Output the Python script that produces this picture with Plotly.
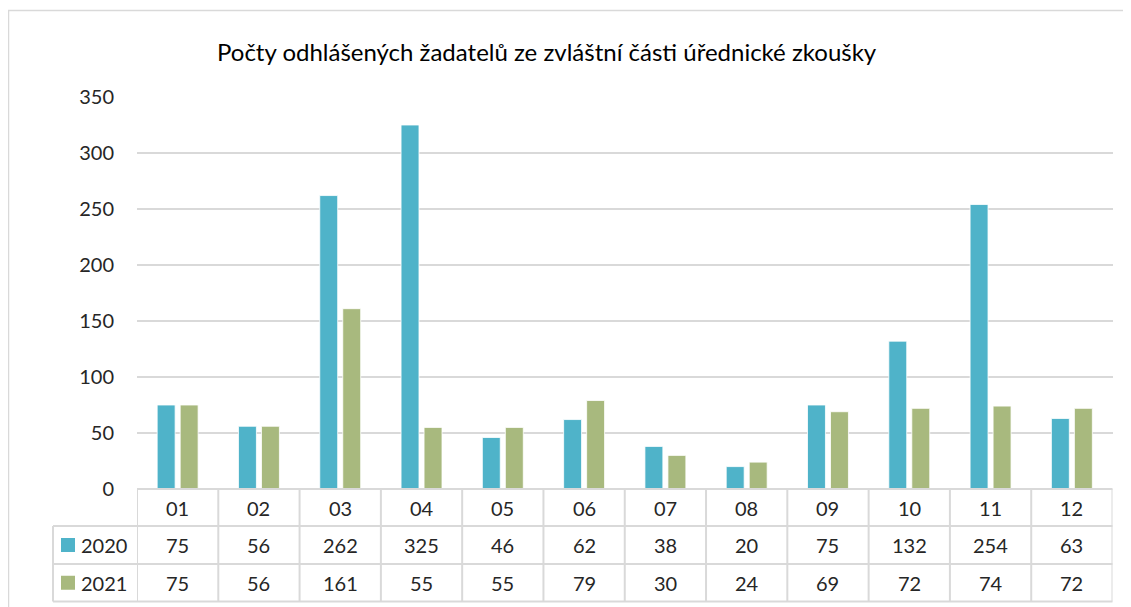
import plotly.graph_objects as go

W, H = 1131, 607
months = ["01", "02", "03", "04", "05", "06", "07", "08", "09", "10", "11", "12"]
series_names = ["2020", "2021"]
v2020 = [75, 56, 262, 325, 46, 62, 38, 20, 75, 132, 254, 63]
v2021 = [75, 56, 161, 55, 55, 79, 30, 24, 69, 72, 74, 72]
colors = ["#4FB3C9", "#A8B97E"]
title = "Počty odhlášených žadatelů ze zvláštní části úřednické zkoušky"
yticks = [0, 50, 100, 150, 200, 250, 300, 350]

FONT = "Lato"
GRID = "#D9D9D9"
OFF = 8  # page offset of the figure in the browser


def px(x):
    return (x - OFF) / W


def py(y):
    return 1 - (y - OFF) / H


x0, x1 = 137, 1112.5
y_top, y_zero = 97, 489
row_y = [489, 526, 564, 601.5]
leg_x = 53

fig = go.Figure()
for name, vals, col in zip(series_names, [v2020, v2021], colors):
    fig.add_trace(go.Bar(x=months, y=vals, name=name,
                         marker=dict(color=col, line=dict(color="white", width=0.8)),
                         showlegend=False, hoverinfo="x+y+name"))

shapes = []
# outer chart border
shapes.append(dict(type="rect", xref="paper", yref="paper", x0=px(8.5), x1=px(1150), y0=py(640), y1=py(10.5),
                   line=dict(color="#D9D9D9", width=1.5), fillcolor="rgba(0,0,0,0)", layer="below"))
# horizontal table lines
shapes.append(dict(type="line", xref="paper", yref="paper", x0=px(x0), x1=px(x1), y0=py(row_y[0]), y1=py(row_y[0]),
                   line=dict(color=GRID, width=2)))
for yy in row_y[1:]:
    shapes.append(dict(type="line", xref="paper", yref="paper", x0=px(leg_x), x1=px(x1), y0=py(yy), y1=py(yy),
                       line=dict(color=GRID, width=2)))
# vertical table lines at category boundaries
for k in range(len(months) + 1):
    shapes.append(dict(type="line", xref="x", yref="paper", x0=k - 0.5, x1=k - 0.5, y0=py(row_y[0]), y1=py(row_y[3]),
                       line=dict(color=GRID, width=2)))
shapes.append(dict(type="line", xref="paper", yref="paper", x0=px(leg_x), x1=px(leg_x), y0=py(row_y[1]), y1=py(row_y[3]),
                   line=dict(color=GRID, width=2)))

annotations = []
txtfont = dict(family=FONT, size=20, color="#262626")
for i, m in enumerate(months):
    annotations.append(dict(x=i, xref="x", y=py((row_y[0] + row_y[1]) / 2), yref="paper", text=m, showarrow=False,
                            font=txtfont, xanchor="center", yanchor="middle"))
    for r, vals in enumerate([v2020, v2021]):
        annotations.append(dict(x=i, xref="x", y=py((row_y[r + 1] + row_y[r + 2]) / 2), yref="paper",
                                text=str(vals[i]), showarrow=False, font=txtfont,
                                xanchor="center", yanchor="middle"))
# legend keys in table
for r, (name, col) in enumerate(zip(series_names, colors)):
    cy = (row_y[r + 1] + row_y[r + 2]) / 2
    shapes.append(dict(type="rect", xref="paper", yref="paper", x0=px(61), x1=px(75), y0=py(cy + 7), y1=py(cy - 7),
                       fillcolor=col, line=dict(width=0)))
    annotations.append(dict(x=px(79), xref="paper", y=py(cy), yref="paper", text=name, showarrow=False,
                            font=txtfont, xanchor="left", yanchor="middle"))
# title
annotations.append(dict(x=px(547), xref="paper", y=py(51), yref="paper", text=title, showarrow=False,
                        font=dict(family=FONT, size=24, color="#000000"), xanchor="center", yanchor="middle"))

fig.update_layout(
    width=W, height=H,
    margin=dict(l=0, r=0, t=0, b=0),
    paper_bgcolor="white", plot_bgcolor="white",
    barmode="group", bargap=0.434, bargroupgap=0.22,
    shapes=shapes, annotations=annotations,
    xaxis=dict(type="category", domain=[px(x0), px(x1)], range=[-0.5, 11.5], showticklabels=False,
               showgrid=False, zeroline=False, showline=False, ticks="", automargin=False),
    yaxis=dict(domain=[py(y_zero), py(y_top)], range=[0, 350], tickvals=yticks, showgrid=True, gridcolor=GRID,
               gridwidth=2, zeroline=False, showline=False, ticks="", ticklabelstandoff=22, automargin=False,
               tickfont=dict(family=FONT, size=20, color="#262626")),
    font=dict(family=FONT),
)
fig.write_html("out.html")
